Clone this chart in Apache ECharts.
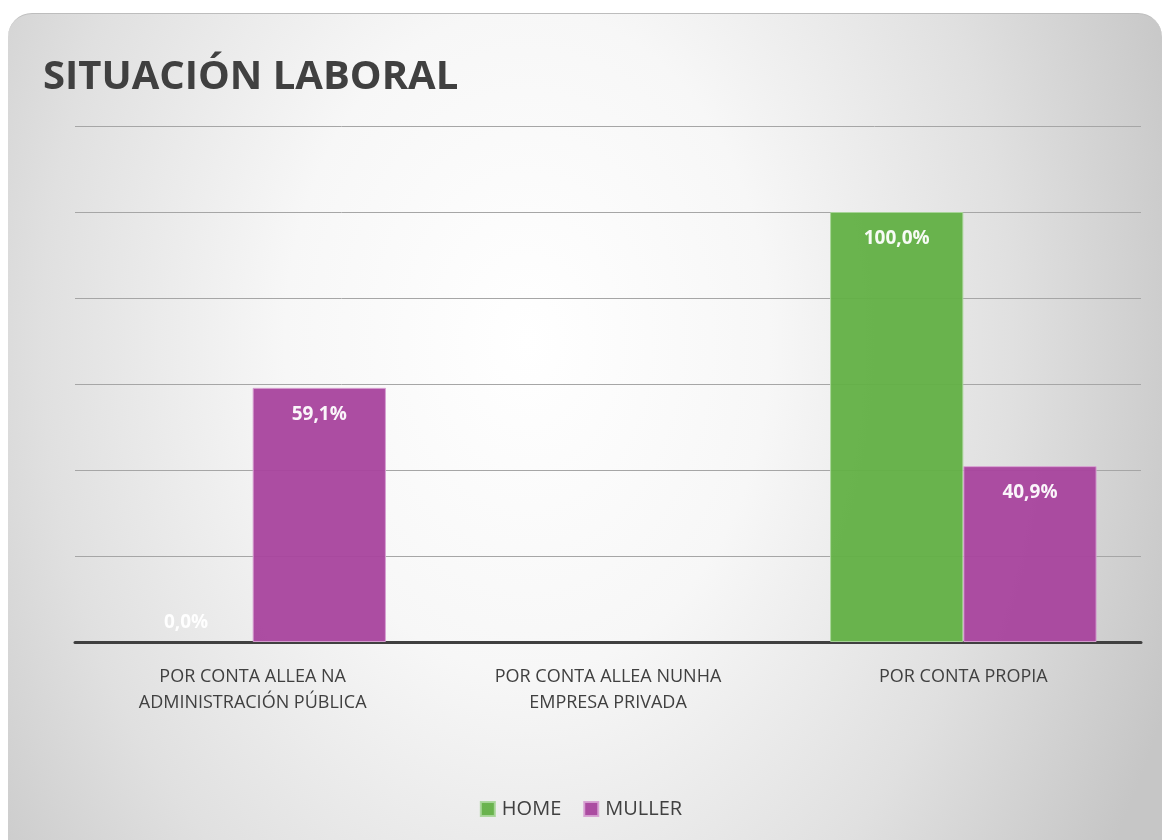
<!DOCTYPE html>
<html>
<head>
<meta charset="utf-8">
<script src="https://cdn.jsdelivr.net/npm/echarts@6/dist/echarts.min.js"></script>
<style>
  html, body { margin: 0; padding: 0; background: #ffffff; }
  #panel {
    position: absolute; left: 8px; top: 13px; width: 1154px; height: 860px;
    border-radius: 24px;
    border-top: 1px solid #bdbdbd;
    background: radial-gradient(ellipse 60% 110% at 45% 38%, #ffffff 0%, #f7f7f7 35%, #e0e0e0 70%, #c6c6c6 100%);
  }
  #main { position: absolute; left: 0; top: 0; width: 1162px; height: 840px; }
</style>
</head>
<body>
<div id="panel"></div>
<div id="main"></div>
<script>
// categorías e valores (%)
var categorias = ['POR CONTA ALLEA NA\nADMINISTRACIÓN PÚBLICA', 'POR CONTA ALLEA NUNHA\nEMPRESA PRIVADA', 'POR CONTA PROPIA'];
var home = [0, '-', 100];
var muller = [59.1, '-', 40.9];
var cores = ['#62b045', '#a8439d'];

function etiqueta(p) {
    return p.value.toFixed(1).replace('.', ',') + '%';
}

// a barra de 0 leva a etiqueta por riba do eixo
function datos(vals) {
    return vals.map(function (v) {
        if (v === 0) {
            return { value: v, itemStyle: { borderWidth: 0 }, label: { position: 'top', distance: 10 } };
        }
        return v;
    });
}

var Chart = echarts.init(document.getElementById('main'));
Chart.setOption({
    backgroundColor: 'transparent',
    title: {
        text: 'SITUACIÓN LABORAL',
        left: 38, top: 53,
        textStyle: { fontFamily: 'Open Sans', fontWeight: 'bold', fontSize: 40, color: '#404040' }
    },
    legend: {
        bottom: 16, left: 'center',
        itemWidth: 14, itemHeight: 14, itemGap: 22,
        icon: 'rect',
        textStyle: { fontFamily: 'Open Sans', fontSize: 20, color: '#404040', padding: [0, 0, 0, 2] },
        data: ['HOME', 'MULLER']
    },
    grid: { left: 75, right: 21, top: 126, bottom: 198 },
    xAxis: {
        type: 'category',
        data: categorias,
        axisLine: { lineStyle: { color: '#404040', width: 3 } },
        axisTick: { show: false },
        axisLabel: { fontFamily: 'Open Sans', fontSize: 18, color: '#404040', lineHeight: 26, margin: 22 }
    },
    yAxis: {
        type: 'value', min: 0, max: 120, interval: 20,
        axisLabel: { show: false },
        axisLine: { show: false },
        axisTick: { show: false },
        splitLine: { lineStyle: { color: '#a6a6a6', width: 1 } }
    },
    series: [
        {
            name: 'HOME', type: 'bar', data: datos(home),
            barGap: '0%', barCategoryGap: '25%',
            itemStyle: { color: cores[0], opacity: 0.95, borderColor: '#a9d69a', borderWidth: 1 },
            label: {
                show: true, position: 'insideTop', distance: 17, formatter: etiqueta,
                color: '#ffffff', fontFamily: 'Open Sans', fontWeight: 'bold', fontSize: 19
            }
        },
        {
            name: 'MULLER', type: 'bar', data: datos(muller),
            itemStyle: { color: cores[1], opacity: 0.95, borderColor: '#d7a0d2', borderWidth: 1 },
            label: {
                show: true, position: 'insideTop', distance: 17, formatter: etiqueta,
                color: '#ffffff', fontFamily: 'Open Sans', fontWeight: 'bold', fontSize: 19
            }
        }
    ]
});
</script>
</body>
</html>
